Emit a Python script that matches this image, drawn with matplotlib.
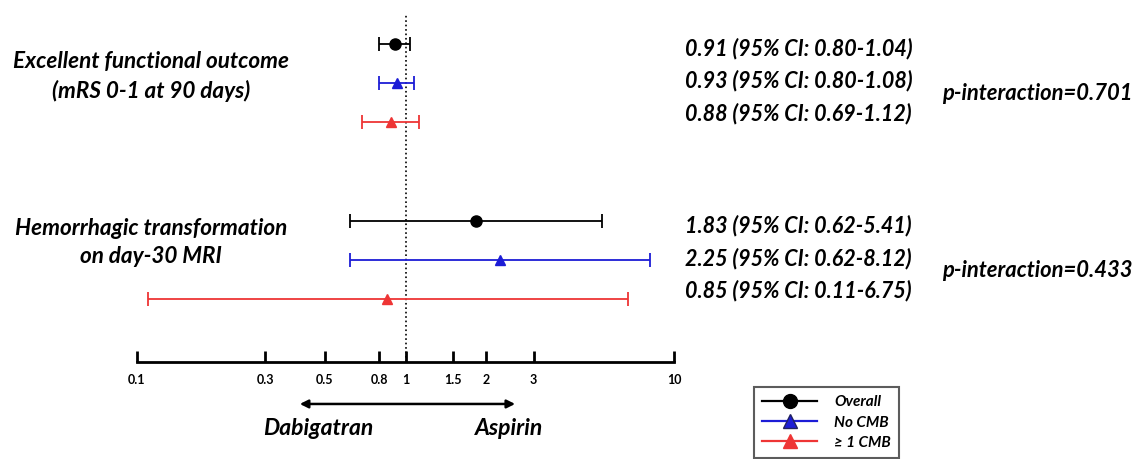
import matplotlib
matplotlib.use("Agg")
import matplotlib.pyplot as plt
from matplotlib.lines import Line2D
from matplotlib.transforms import blended_transform_factory

plt.rcParams["font.family"] = ["Lato", "DejaVu Sans"]

# data
outcomes = ["Excellent functional outcome\n(mRS 0-1 at 90 days)",
            "Hemorrhagic transformation\non day-30 MRI"]
subgroups = ["Overall", "No CMB", "\u2265 1 CMB"]
odds = [[0.91, 0.93, 0.88], [1.83, 2.25, 0.85]]
ci_low = [[0.80, 0.80, 0.69], [0.62, 0.62, 0.11]]
ci_high = [[1.04, 1.08, 1.12], [5.41, 8.12, 6.75]]
p_interaction = [0.701, 0.433]
ticks = [0.1, 0.3, 0.5, 0.8, 1, 1.5, 2, 3, 10]
tick_labels = ["0.1", "0.3", "0.5", "0.8", "1", "1.5", "2", "3", "10"]
favours = ["Dabigatran", "Aspirin"]

colors = ["black", "#1c1cd6", "#ee3535"]
markers = ["o", "^", "^"]
group_offset = [0.0, 4.54]

W, H = 1134, 459
fig = plt.figure(figsize=(W / 100, H / 100), dpi=100)
ax = fig.add_axes([137 / W, 1 - 362 / H, (674 - 137) / W, 362 / H])
ax.set_xscale("log")
ax.set_xlim(0.1, 10)
ax.set_ylim(8.154, -1.128)

bi = dict(fontweight="bold", fontstyle="italic")
trans = blended_transform_factory(fig.transFigure, ax.transData)

for g, outcome in enumerate(outcomes):
    for i, sub in enumerate(subgroups):
        y = group_offset[g] + i
        est, lo, hi = odds[g][i], ci_low[g][i], ci_high[g][i]
        ax.errorbar(est, y, xerr=[[est - lo], [hi - est]], fmt=markers[i],
                    color=colors[i], ms=8 if i == 0 else 7.5, elinewidth=1.3,
                    capsize=5, capthick=1.3, clip_on=False, zorder=3)
        ty = group_offset[g] + 1 - 0.05 + (i - 1) * 0.84
        ax.text(685 / W, ty, f"{est:.2f} (95% CI: {lo:.2f}-{hi:.2f})",
                transform=trans, ha="left", va="center", fontsize=15.5, **bi)
    ax.text(942 / W, group_offset[g] + 1.27, f"p-interaction={p_interaction[g]:.3f}",
            transform=trans, ha="left", va="center", fontsize=15.8, **bi)

ax.text(151 / W, 0.83, outcomes[0], transform=trans, ha="center", va="center",
        fontsize=16.2, linespacing=1.4, **bi)
ax.text(151 / W, group_offset[1] + 0.56, outcomes[1], transform=trans, ha="center",
        va="center", fontsize=16.2, linespacing=1.4, **bi)

ax.axvline(1, ymax=0.96, color="black", ls=":", lw=1.2, zorder=1)

for s in ["top", "left", "right"]:
    ax.spines[s].set_visible(False)
ax.spines["bottom"].set_linewidth(2)
ax.set_yticks([])
ax.set_xticks(ticks)
ax.set_xticklabels(tick_labels)
ax.minorticks_off()
ax.tick_params(axis="x", direction="in", length=8, width=2, pad=9, labelsize=9)
for lab in ax.get_xticklabels():
    lab.set_fontweight("bold")

ax.annotate("", xy=(0.404, 9.23), xytext=(2.56, 9.23), annotation_clip=False,
            arrowprops=dict(arrowstyle="<|-|>", color="black", lw=1.8,
                            mutation_scale=12, shrinkA=0, shrinkB=0))
ax.text(0.475, 9.87, favours[0], ha="center", va="center", fontsize=16.5,
        clip_on=False, **bi)
ax.text(2.43, 9.87, favours[1], ha="center", va="center", fontsize=16.5,
        clip_on=False, **bi)

handles = [Line2D([], [], color=c, marker=m, ms=10, lw=1.6,
                  markeredgecolor="#202060" if i == 1 else c)
           for i, (c, m) in enumerate(zip(colors, markers))]
leg = fig.legend(handles, subgroups, loc="upper left",
                 bbox_to_anchor=(754 / W, 1 - 387 / H), frameon=True,
                 fancybox=False, edgecolor="#333333", handlelength=3.6,
                 handletextpad=1.1, borderpad=0.55, labelspacing=0.4,
                 borderaxespad=0,
                 prop=dict(size=11, weight="bold", style="italic"))
leg.get_frame().set_linewidth(1.5)

fig.savefig("out.png", dpi=100)
